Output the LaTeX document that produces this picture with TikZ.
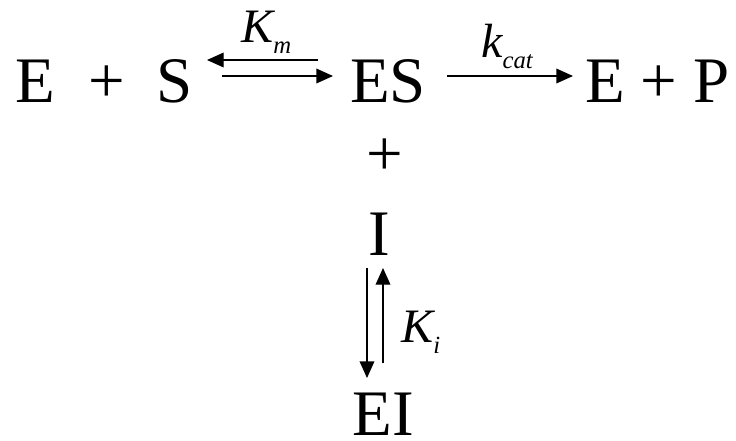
\documentclass[tikz,border=0pt]{standalone}
\usepackage{fontspec}
\setmainfont{Liberation Serif}
\usetikzlibrary{arrows.meta}
\newcommand\lowsub[1]{\raisebox{-8.5pt}{\fontsize{18.5}{20}\selectfont #1}}
\begin{document}
\begin{tikzpicture}[x=0.75pt,y=-0.75pt,
  main/.style={inner sep=0pt, font=\fontsize{48.7}{58}\selectfont},
  lab/.style={inner sep=0pt, anchor=base west, font=\fontsize{36}{42}\selectfont\itshape},
  arr/.style={line width=1pt, -{Triangle[length=12.5pt,width=11pt]}}]
\useasboundingbox (0,0) rectangle (736,440);
% main row
\node[main, anchor=base] (E) at (35.5,102) {E};
\node[main] (plus1) at (106.5,84) {+};
\node[main, anchor=base] (S) at (175,102) {S};
\node[main, anchor=base] (ES) at (388,102) {ES};
\node[main, anchor=base] (EP) at (657.5,102) {E + P};
% vertical column
\node[main] (plus2) at (385,157.5) {+};
\node[main, anchor=base] (I) at (379,255) {I};
\node[main, anchor=base] (EI) at (383.5,435.5) {EI};
% labels
\node[lab] (km) at (241,42) {K\lowsub{m}};
\node[lab] (kcat) at (481,57) {k\lowsub{cat}};
\node[lab] (ki) at (401,342) {K\lowsub{i}};
% arrow end points
\coordinate (kmBack0) at (318,60);
\coordinate (kmBack1) at (207,60);
\coordinate (kmFwd0) at (222,76);
\coordinate (kmFwd1) at (333,76);
\coordinate (kc0) at (447,76);
\coordinate (kc1) at (573,76);
\coordinate (kiDown0) at (367,268);
\coordinate (kiDown1) at (367,378);
\coordinate (kiUp0) at (383,363);
\coordinate (kiUp1) at (383,268);
% connectors
\draw[arr] (kmBack0) -- (kmBack1);
\draw[arr] (kmFwd0) -- (kmFwd1);
\draw[arr] (kc0) -- (kc1);
\draw[arr] (kiDown0) -- (kiDown1);
\draw[arr] (kiUp0) -- (kiUp1);
\end{tikzpicture}
\end{document}
